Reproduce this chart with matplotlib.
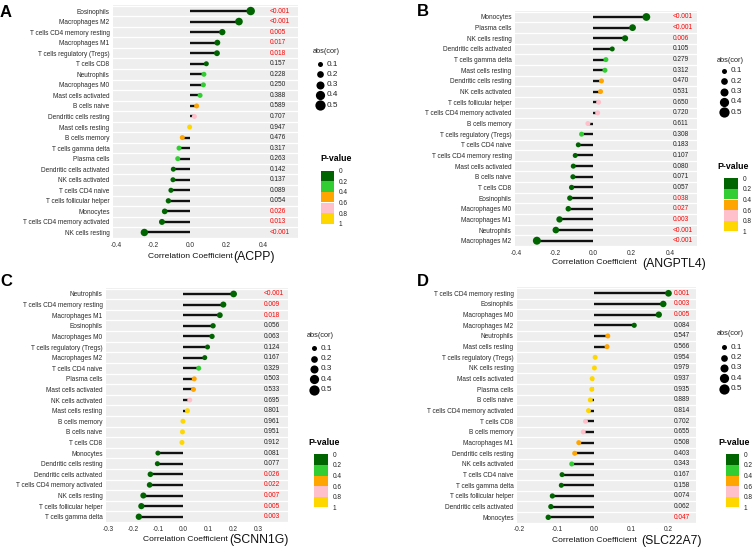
import matplotlib.pyplot as plt
import numpy as np
from matplotlib.patches import Rectangle

plt.rcParams['font.family'] = ['Liberation Sans', 'DejaVu Sans']

W, H = 753, 547

# ---------------- data ----------------
acpp_cells = ['Eosinophils', 'Macrophages M2', 'T cells CD4 memory resting', 'Macrophages M1',
              'T cells regulatory (Tregs)', 'T cells CD8', 'Neutrophils', 'Macrophages M0',
              'Mast cells activated', 'B cells naive', 'Dendritic cells resting', 'Mast cells resting',
              'B cells memory', 'T cells gamma delta', 'Plasma cells', 'Dendritic cells activated',
              'NK cells activated', 'T cells CD4 naive', 'T cells follicular helper', 'Monocytes',
              'T cells CD4 memory activated', 'NK cells resting']
acpp_cor = [0.331, 0.267, 0.176, 0.149, 0.147, 0.089, 0.076, 0.073, 0.055, 0.036, 0.024, -0.002,
            -0.042, -0.060, -0.067, -0.091, -0.093, -0.104, -0.118, -0.138, -0.153, -0.249]
acpp_p = ['<0.001', '<0.001', '0.005', '0.017', '0.018', '0.157', '0.228', '0.250', '0.388', '0.589',
          '0.707', '0.947', '0.476', '0.317', '0.263', '0.142', '0.137', '0.089', '0.054', '0.026',
          '0.013', '<0.001']

angptl4_cells = ['Monocytes', 'Plasma cells', 'NK cells resting', 'Dendritic cells activated',
                 'T cells gamma delta', 'Mast cells resting', 'Dendritic cells resting', 'NK cells activated',
                 'T cells follicular helper', 'T cells CD4 memory activated', 'B cells memory',
                 'T cells regulatory (Tregs)', 'T cells CD4 naive', 'T cells CD4 memory resting',
                 'Mast cells activated', 'B cells naive', 'T cells CD8', 'Eosinophils', 'Macrophages M0',
                 'Macrophages M1', 'Neutrophils', 'Macrophages M2']
angptl4_cor = [0.277, 0.205, 0.166, 0.099, 0.066, 0.061, 0.043, 0.038, 0.028, 0.023, -0.028, -0.061,
               -0.078, -0.094, -0.104, -0.106, -0.113, -0.122, -0.130, -0.176, -0.195, -0.294]
angptl4_p = ['<0.001', '<0.001', '0.006', '0.105', '0.279', '0.312', '0.470', '0.531', '0.650', '0.720',
             '0.611', '0.308', '0.183', '0.107', '0.080', '0.071', '0.057', '0.038', '0.027', '0.003',
             '<0.001', '<0.001']

scnn1g_cells = ['Neutrophils', 'T cells CD4 memory resting', 'Macrophages M1', 'Eosinophils',
                'Macrophages M0', 'T cells regulatory (Tregs)', 'Macrophages M2', 'T cells CD4 naive',
                'Plasma cells', 'Mast cells activated', 'NK cells activated', 'Mast cells resting',
                'B cells memory', 'B cells naive', 'T cells CD8', 'Monocytes', 'Dendritic cells resting',
                'Dendritic cells activated', 'T cells CD4 memory activated', 'NK cells resting',
                'T cells follicular helper', 'T cells gamma delta']
scnn1g_cor = [0.201, 0.160, 0.146, 0.119, 0.115, 0.097, 0.086, 0.062, 0.044, 0.041, 0.026, 0.017,
              -0.001, -0.003, -0.005, -0.101, -0.103, -0.131, -0.134, -0.159, -0.167, -0.177]
scnn1g_p = ['<0.001', '0.009', '0.018', '0.056', '0.063', '0.124', '0.167', '0.329', '0.503', '0.533',
            '0.695', '0.801', '0.961', '0.951', '0.912', '0.081', '0.077', '0.026', '0.022', '0.007',
            '0.005', '0.003']

slc22a7_cells = ['T cells CD4 memory resting', 'Eosinophils', 'Macrophages M0', 'Macrophages M2',
                 'Neutrophils', 'Mast cells resting', 'T cells regulatory (Tregs)', 'NK cells resting',
                 'Mast cells activated', 'Plasma cells', 'B cells naive', 'T cells CD4 memory activated',
                 'T cells CD8', 'B cells memory', 'Macrophages M1', 'Dendritic cells resting',
                 'NK cells activated', 'T cells CD4 naive', 'T cells gamma delta',
                 'T cells follicular helper', 'Dendritic cells activated', 'Monocytes']
slc22a7_cor = [0.200, 0.186, 0.174, 0.108, 0.037, 0.035, 0.003, 0.001, -0.005, -0.006, -0.010, -0.015,
               -0.023, -0.029, -0.041, -0.052, -0.060, -0.086, -0.088, -0.112, -0.116, -0.123]
slc22a7_p = ['0.001', '0.003', '0.005', '0.084', '0.547', '0.566', '0.954', '0.979', '0.937', '0.935',
             '0.889', '0.814', '0.702', '0.655', '0.508', '0.403', '0.343', '0.167', '0.158', '0.074',
             '0.062', '0.047']

size_breaks = [0.1, 0.2, 0.3, 0.4, 0.5]
p_breaks = ['0', '0.2', '0.4', '0.6', '0.8', '1']
p_colors = ['#006400', '#32CD32', '#FFA500', '#FFC0CB', '#FFD700']


def frac(x0, y0, x1, y1):
    # pixel box (top-left origin) -> figure fraction
    return [x0 / W, 1 - y1 / H, (x1 - x0) / W, (y1 - y0) / H]


def pnum(s):
    return 0.0005 if s.startswith('<') else float(s)


def pcolor(p):
    return p_colors[min(int(p / 0.2), 4)]


def dot_size(r):
    d = np.sqrt(5 + 200 * max(abs(r), 0.1))  # diameter in px
    return (d * 0.72) ** 2


fig = plt.figure(figsize=(W / 100, H / 100), dpi=100)


def lollipop(rect, cells, cor, pvals, xlim, xticks, text_x):
    ax = fig.add_axes(frac(*rect))
    n = len(cells)
    ypos = [n - 1 - i for i in range(n)]
    ax.set_facecolor('#EEEEEE')
    for k in range(n + 1):
        ax.axhline(k - 0.5, color='white', lw=0.9, zorder=0)
    ax.hlines(ypos, 0, cor, color='#111111', lw=1.7, zorder=2)
    ax.scatter(cor, ypos, s=[dot_size(c) for c in cor],
               c=[pcolor(pnum(p)) for p in pvals], linewidths=0, zorder=3)
    for y, p in zip(ypos, pvals):
        ax.text(text_x, y, p, fontsize=4.7, va='center', ha='left',
                color='#FF0000' if pnum(p) < 0.05 else '#222222')
    ax.set_xlim(*xlim)
    ax.set_ylim(-0.6, n - 0.4)
    ax.set_yticks(ypos)
    ax.set_yticklabels(cells)
    ax.set_xticks(xticks)
    ax.set_xticklabels([f'{t:.1f}' for t in xticks])
    ax.tick_params(axis='y', length=0, labelsize=4.7, labelcolor='#2a2a2a', pad=2.5)
    ax.tick_params(axis='x', length=0, labelsize=4.7, labelcolor='#2a2a2a', pad=2.0)
    for sp in ax.spines.values():
        sp.set_visible(False)
    return ax


lollipop((113, 4.7, 298, 238.8), acpp_cells, acpp_cor, acpp_p,
         (-0.42, 0.589), [-0.4, -0.2, 0.0, 0.2, 0.4], 0.436)
lollipop((515, 10.6, 697, 247.1), angptl4_cells, angptl4_cor, angptl4_p,
         (-0.408, 0.541), [-0.4, -0.2, 0.0, 0.2, 0.4], 0.415)
lollipop((106, 287.6, 288, 523.1), scnn1g_cells, scnn1g_cor, scnn1g_p,
         (-0.308, 0.418), [-0.3, -0.2, -0.1, 0.0, 0.1, 0.2, 0.3], 0.322)
lollipop((517, 286.9, 696, 523.7), slc22a7_cells, slc22a7_cor, slc22a7_p,
         (-0.207, 0.274), [-0.2, -0.1, 0.0, 0.1, 0.2], 0.215)

# overlay in pixel coordinates for legends and labels
ov = fig.add_axes([0, 0, 1, 1])
ov.set_xlim(0, W)
ov.set_ylim(H, 0)
ov.axis('off')
ov.patch.set_visible(False)


def legends(title_xy, dot_xy, ptitle_xy, box_xy):
    ov.text(title_xy[0], title_xy[1], 'abs(cor)', fontsize=5.3, va='center', ha='left', color='#222222')
    for i, b in enumerate(size_breaks):
        y = dot_xy[1] + i * 10.3
        ov.scatter([dot_xy[0]], [y], s=dot_size(b), color='black', linewidths=0)
        ov.text(dot_xy[0] + 6.5, y, str(b), fontsize=5.9, va='center', ha='left', color='#222222')
    ov.text(ptitle_xy[0], ptitle_xy[1], 'P-value', fontsize=6.3, fontweight='bold', va='center', ha='left')
    bh = 53 / len(p_colors)
    for i, col in enumerate(p_colors):
        ov.add_patch(Rectangle((box_xy[0], box_xy[1] + i * bh), 13.5, bh, color=col, lw=0))
    for i, lab in enumerate(p_breaks):
        ov.text(box_xy[0] + 18, box_xy[1] + i * bh + 1, lab, fontsize=4.7, va='center', ha='left',
                color='#222222')


legends((312.7, 51.7), (319.7, 64), (320.7, 158.3), (320.7, 170.7))
legends((716.7, 60), (724, 71), (717.3, 166.7), (724.3, 178.3))
legends((306.7, 335.7), (314.3, 348.3), (308, 442.7), (314.3, 454.3))
legends((716.7, 333.3), (724.3, 347.3), (718.3, 442.7), (725.7, 454.3))

# axis titles: "Correlation Coefficient" + gene name
xlab = [(148, 233, 256, 'ACPP'), (551.7, 642.7, 263, 'ANGPTL4'),
        (142.7, 229.3, 539.5, 'SCNN1G'), (551.7, 641.7, 540, 'SLC22A7')]
for x1, x2, y, gene in xlab:
    ov.text(x1, y, 'Correlation Coefficient', fontsize=6.1, va='center', ha='left', color='#111111')
    ov.text(x2, y + 0.8, f'({gene})', fontsize=8.8, va='center', ha='left', color='#111111')

# panel letters
for x, y, letter in [(0, 12.5, 'A'), (417, 11, 'B'), (0, 281, 'C'), (417, 281, 'D')]:
    ov.text(x, y, letter, fontsize=12, fontweight='bold', va='center', ha='left')

fig.savefig('out.png', dpi=100)
